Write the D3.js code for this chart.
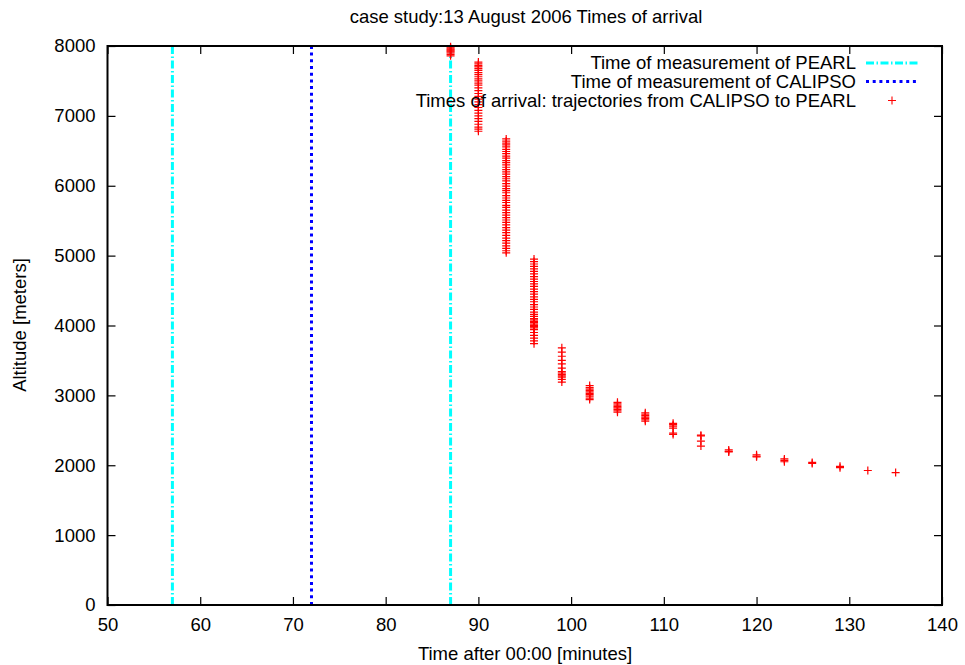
<!DOCTYPE html>
<html>
<head>
<meta charset="utf-8">
<script src="https://cdn.jsdelivr.net/npm/d3@7"></script>
<style>
  body { margin: 0; background: #fff; }
  text { font-family: "Liberation Sans", Arial, Helvetica, sans-serif; fill: #000; }
</style>
</head>
<body>
<svg id="chart" width="965" height="665"></svg>
<script>
// Axis ticks
const xTicks = [50, 60, 70, 80, 90, 100, 110, 120, 130, 140];
const yTicks = [0, 1000, 2000, 3000, 4000, 5000, 6000, 7000, 8000];

// Measurement times (minutes after 00:00)
const pearlTimes = [57, 87];
const calipsoTimes = [72];

// Arrival times of the trajectories and the altitudes arriving at each time
const arrivalTimes = [87, 90, 93, 96, 99, 102, 105, 108, 111, 114, 117, 120, 123, 126, 129, 132, 135];
const alt87 = [7860, 7880, 7900, 7915, 7930, 7945, 7960, 7975, 7990];
const alt90 = [7770, 7745, 7720, 7700, 7675, 7650, 7620, 7590, 7560, 7530, 7500, 7470, 7440, 7400,
               7360, 7320, 7280, 7240, 7200, 7160, 7120, 7080, 7040, 7000, 6960, 6920, 6880, 6840, 6810, 6780];
const alt93 = [6670, 6640, 6610, 6585, 6555, 6520, 6490, 6460, 6425, 6395, 6360, 6330, 6300, 6265,
               6230, 6200, 6165, 6130, 6100, 6070, 6030, 5995, 5960, 5930, 5900, 5860, 5825, 5790,
               5760, 5720, 5690, 5650, 5615, 5580, 5545, 5510, 5475, 5440, 5400, 5365, 5330, 5290,
               5250, 5215, 5180, 5140, 5105, 5070, 5040];
const alt96 = [4950, 4915, 4880, 4845, 4810, 4775, 4740, 4700, 4665, 4630, 4595, 4560, 4520, 4485,
               4450, 4410, 4375, 4340, 4300, 4265, 4230, 4190, 4160, 4130, 4100, 4080, 4060, 4040,
               4020, 4000, 3985, 3965, 3940, 3900, 3860, 3820, 3780, 3740];
const alt99 = [3680, 3620, 3560, 3500, 3450, 3390, 3340, 3320, 3300, 3280, 3260, 3230, 3190];
const alt102 = [3140, 3110, 3090, 3070, 3050, 3030, 3010, 2990, 2960, 2940];
const alt105 = [2900, 2880, 2860, 2840, 2820, 2800, 2780, 2760];
const alt108 = [2750, 2730, 2710, 2690, 2670, 2650, 2630];
const alt111 = [2600, 2580, 2560, 2530, 2460, 2440];
const alt114 = [2430, 2420, 2345, 2275];
const alt117 = [2220, 2200, 2190];
const alt120 = [2150, 2130, 2120];
const alt123 = [2090, 2070, 2050];
const alt126 = [2040, 2025];
const alt129 = [1985, 1965];
const alt132 = [1925];
const alt135 = [1895];
const arrivalAltitudes = [alt87, alt90, alt93, alt96, alt99, alt102, alt105, alt108, alt111,
                          alt114, alt117, alt120, alt123, alt126, alt129, alt132, alt135];

const legendLabels = [
  "Time of measurement of PEARL",
  "Time of measurement of CALIPSO",
  "Times of arrival: trajectories from CALIPSO to PEARL"
];

(function draw() {
  // Flatten arrival data into points
  const points = [];
  arrivalTimes.forEach((t, i) => arrivalAltitudes[i].forEach(a => points.push({ t, a })));

  const svg = d3.select("#chart");
  const plotLeft = 107.5, plotRight = 942, plotTop = 46, plotBottom = 605;
  const x = d3.scaleLinear().domain([50, 140]).range([plotLeft, plotRight]);
  const y = d3.scaleLinear().domain([0, 8000]).range([plotBottom, plotTop]);

  const FONT = 18.5;
  const pearlStyle = { color: "#00ffff", dash: "8,2.5,1.5,2.5", width: 3 };
  const calipsoStyle = { color: "#0000ff", dash: "3,3.7", width: 3 };

  // Axes with inward ticks, mirrored on top and right
  function styleAxis(g, labels) {
    g.select(".domain").remove();
    g.selectAll(".tick line").attr("stroke", "#000").attr("stroke-width", 1.2);
    g.selectAll("text").style("font-size", FONT + "px");
    if (!labels) g.selectAll("text").remove();
  }
  svg.append("g").attr("transform", `translate(0,${plotBottom})`)
    .call(d3.axisBottom(x).tickValues(xTicks).tickSize(-8).tickPadding(13).tickFormat(d3.format("d")))
    .call(g => styleAxis(g, true));
  svg.append("g").attr("transform", `translate(0,${plotTop})`)
    .call(d3.axisTop(x).tickValues(xTicks).tickSize(-8))
    .call(g => styleAxis(g, false));
  svg.append("g").attr("transform", `translate(${plotLeft},0)`)
    .call(d3.axisLeft(y).tickValues(yTicks).tickSize(-8).tickPadding(12).tickFormat(d3.format("d")))
    .call(g => styleAxis(g, true));
  svg.append("g").attr("transform", `translate(${plotRight},0)`)
    .call(d3.axisRight(y).tickValues(yTicks).tickSize(-8))
    .call(g => styleAxis(g, false));

  // Vertical measurement lines
  svg.append("g").selectAll("line").data(pearlTimes).join("line")
    .attr("x1", d => x(d)).attr("x2", d => x(d))
    .attr("y1", y(0)).attr("y2", y(8000))
    .attr("stroke", pearlStyle.color).attr("stroke-width", pearlStyle.width)
    .attr("stroke-dasharray", pearlStyle.dash);
  svg.append("g").selectAll("line").data(calipsoTimes).join("line")
    .attr("x1", d => x(d)).attr("x2", d => x(d))
    .attr("y1", y(0)).attr("y2", y(8000))
    .attr("stroke", calipsoStyle.color).attr("stroke-width", calipsoStyle.width)
    .attr("stroke-dasharray", calipsoStyle.dash);

  // Plus markers
  const plusPath = (cx, cy, r) => `M${cx - r},${cy}H${cx + r}M${cx},${cy - r}V${cy + r}`;
  svg.append("g").selectAll("path").data(points).join("path")
    .attr("d", d => plusPath(x(d.t), y(d.a), 4))
    .attr("stroke", "#ff0000").attr("stroke-width", 1.2).attr("fill", "none");

  // Frame
  svg.append("rect").attr("x", plotLeft).attr("y", plotTop)
    .attr("width", plotRight - plotLeft).attr("height", plotBottom - plotTop)
    .attr("fill", "none").attr("stroke", "#000").attr("stroke-width", 2);

  // Legend
  const legendTextX = 856, sampleX1 = 866, sampleX2 = 918, rowY = [63, 81.5, 100.5];
  const lg = svg.append("g");
  legendLabels.forEach((lab, i) => {
    lg.append("text").attr("x", legendTextX).attr("y", rowY[i]).attr("dy", "0.35em")
      .attr("text-anchor", "end").style("font-size", FONT + "px").text(lab);
  });
  [pearlStyle, calipsoStyle].forEach((s, i) => {
    lg.append("line").attr("x1", sampleX1).attr("x2", sampleX2)
      .attr("y1", rowY[i]).attr("y2", rowY[i])
      .attr("stroke", s.color).attr("stroke-width", s.width).attr("stroke-dasharray", s.dash);
  });
  lg.append("path").attr("d", plusPath((sampleX1 + sampleX2) / 2, rowY[2], 4))
    .attr("stroke", "#ff0000").attr("stroke-width", 1.1).attr("fill", "none");

  // Titles
  svg.append("text").attr("x", 526).attr("y", 17).attr("dy", "0.35em")
    .attr("text-anchor", "middle").style("font-size", FONT + "px")
    .text("case study:13 August 2006 Times of arrival");
  svg.append("text").attr("x", 525).attr("y", 654).attr("dy", "0.35em")
    .attr("text-anchor", "middle").style("font-size", FONT + "px")
    .text("Time after 00:00 [minutes]");
  svg.append("text").attr("transform", "translate(20,325) rotate(-90)").attr("dy", "0.35em")
    .attr("text-anchor", "middle").style("font-size", FONT + "px")
    .text("Altitude [meters]");
})();
</script>
</body>
</html>
